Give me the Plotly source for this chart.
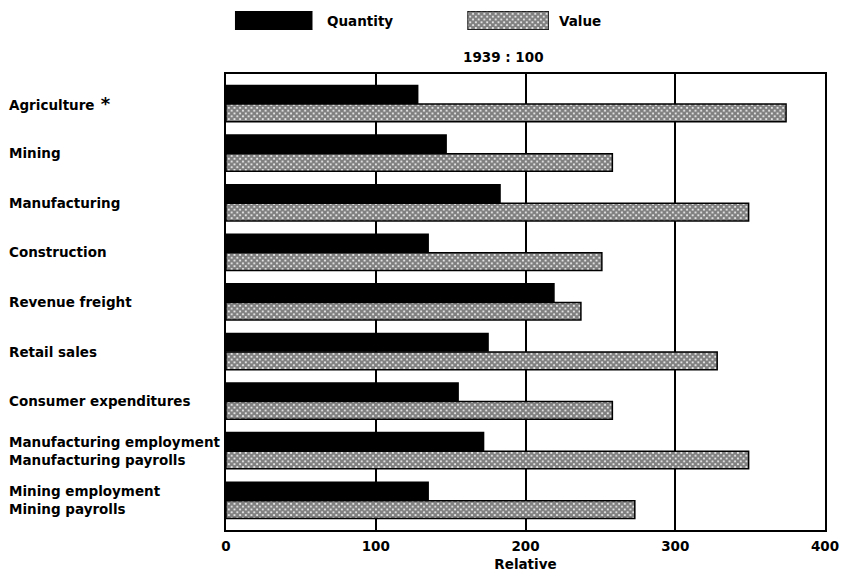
import plotly.graph_objects as go

categories = ["Agriculture *", "Mining", "Manufacturing", "Construction", "Revenue freight",
              "Retail sales", "Consumer expenditures",
              "Manufacturing employment<br>Manufacturing payrolls",
              "Mining employment<br>Mining payrolls"]
quantity = [128, 147, 183, 135, 219, 175, 155, 172, 135]
value = [374, 258, 349, 251, 237, 328, 258, 349, 273]
x_ticks = [0, 100, 200, 300, 400]
series_names = ["Quantity", "Value"]

FONT = "DejaVu Sans"
L, R, T, B = 226, 15, 5, 44
W, H = 844, 575
ph = H - T - B
pw = W - L - R

def py(y):  # pixel y -> paper y
    return (H - B - y) / ph

def px(x):
    return (x - L) / pw

hatch = dict(shape="x", size=4, solidity=0.8, fgcolor="black", bgcolor="white")

fig = go.Figure()
fig.add_trace(go.Bar(y=categories, x=quantity, orientation="h", name=series_names[0],
                     marker=dict(color="black", line=dict(color="black", width=1.5)),
                     showlegend=False))
fig.add_trace(go.Bar(y=categories, x=value, orientation="h", name=series_names[1],
                     marker=dict(color="white", line=dict(color="black", width=1.5),
                                 pattern=hatch),
                     showlegend=False))

# legend swatches on small hidden axes
fig.add_trace(go.Bar(x=[1], y=[0], orientation="h", width=1, xaxis="x2", yaxis="y2",
                     marker=dict(color="black", line=dict(color="black", width=1)),
                     showlegend=False, hoverinfo="skip"))
fig.add_trace(go.Bar(x=[1], y=[0], orientation="h", width=1, xaxis="x3", yaxis="y3",
                     marker=dict(color="white", line=dict(color="black", width=1.5),
                                 pattern=hatch),
                     showlegend=False, hoverinfo="skip"))

n = len(categories)
hidden = dict(visible=False, range=[-0.5, 0.5], fixedrange=True)
fig.update_layout(
    width=W, height=H,
    margin=dict(l=L, r=R, t=T, b=B),
    paper_bgcolor="white", plot_bgcolor="white",
    barmode="group", bargap=0.25, bargroupgap=0.05,
    font=dict(family=FONT, color="black", size=13),
    xaxis=dict(range=[0, 400], tickvals=x_ticks, ticks="", showgrid=True,
               gridcolor="black", gridwidth=2, showline=True, linecolor="black",
               linewidth=2, mirror=True, zeroline=False, ticklabelstandoff=3,
               tickfont=dict(family=FONT, size=13.5, weight="bold"),
               title=dict(text="Relative", standoff=6,
                          font=dict(family=FONT, size=13.5, weight="bold"))),
    yaxis=dict(domain=[0, py(74)], categoryorder="array", categoryarray=categories,
               range=[n - 1 + 0.6, -0.6], showticklabels=False, ticks="", showgrid=False,
               showline=True, linecolor="black", linewidth=2, mirror=True),
    xaxis2=dict(domain=[px(235), px(313)], range=[0, 1], visible=False, anchor="y2"),
    yaxis2=dict(domain=[py(30), py(11)], anchor="x2", **hidden),
    xaxis3=dict(domain=[px(469), px(551)], range=[0, 1], visible=False, anchor="y3"),
    yaxis3=dict(domain=[py(30), py(11)], anchor="x3", **hidden),
)

ann = []
for c in categories:
    label = c.replace(" *", "<span style='font-size:18px'> *</span>")
    ann.append(dict(text=label, xref="paper", yref="y", x=px(6), y=c, xanchor="left",
                    yanchor="middle", align="left", showarrow=False,
                    font=dict(family=FONT, size=13.5, weight="bold")))
ann.append(dict(text="Quantity", xref="paper", yref="paper", x=px(326), y=py(21),
                xanchor="left", yanchor="middle", showarrow=False,
                font=dict(family=FONT, size=13.5, weight="bold")))
ann.append(dict(text="Value", xref="paper", yref="paper", x=px(559), y=py(21),
                xanchor="left", yanchor="middle", showarrow=False,
                font=dict(family=FONT, size=13.5, weight="bold")))
ann.append(dict(text="1939 : 100", xref="paper", yref="paper", x=px(505), y=py(57),
                xanchor="center", yanchor="middle", showarrow=False,
                font=dict(family=FONT, size=13.5, weight="bold")))
fig.update_layout(annotations=ann)

fig.write_html("out.html", config={"displayModeBar": False},
               post_script="document.body.style.margin='0px';document.body.style.overflow='hidden';")
